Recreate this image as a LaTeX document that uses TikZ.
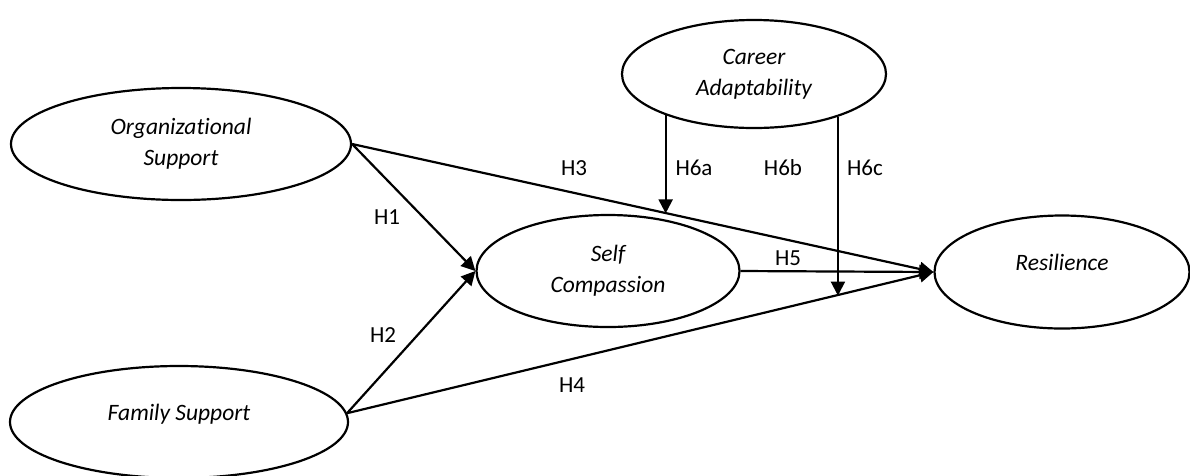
\documentclass[tikz,border=0pt]{standalone}
\usepackage{fontspec}
\setmainfont{Carlito}[Ligatures=NoCommon]
\usetikzlibrary{calc,arrows.meta,shapes.geometric}

\begin{document}
\begin{tikzpicture}[x=1pt, y=-1pt,
	latent/.style={ellipse, draw, line width=2.2pt, inner sep=0pt, align=center, font=\fontsize{23.5}{31}\selectfont\itshape},
	oneline/.style={text height=14pt, text depth=18pt},
	hyp/.style={line width=2.2pt, -{Triangle[length=14pt, width=14pt]}},
	hlabel/.style={font=\fontsize{23}{26}\selectfont}]
			%%%%% START %%%%%
			
			\useasboundingbox (0, 0) rectangle (1190, 475);
			
			\node[latent, minimum width=340pt, minimum height=112pt] (org) at (181, 144) {Organizational\\Support};
			\node[latent, oneline, minimum width=338pt, minimum height=112pt] (fam) at (179, 422) {Family Support};
			\node[latent, minimum width=263pt, minimum height=112pt] (self) at (608, 271) {Self\\Compassion};
			\node[latent, minimum width=264pt, minimum height=108pt] (ca) at (754, 74) {Career\\Adaptability};
			\node[latent, oneline, minimum width=255pt, minimum height=113pt] (res) at (1062, 272) {Resilience};
			
			\draw[hyp] (org.east) -- (self.west);
			\draw[hyp] (fam.3) -- (self.west);
			\draw[hyp] (org.east) -- (res.west);
			\draw[hyp] (fam.3) -- (res.west);
			\draw[hyp] (self.east) -- (res.west);
			
			\coordinate (m3) at ($(org.east)!0.542!(res.west)$);
			\coordinate (m4) at ($(fam.3)!0.833!(res.west)$);
			\draw[hyp] (ca.205) -- (ca.205 |- m3);
			\draw[hyp] (ca.333) -- (ca.333 |- m4);
			
			\node[hlabel] (h1) at (387, 217) {H1};
			\node[hlabel] (h2) at (383, 335) {H2};
			\node[hlabel] (h3) at (574, 168) {H3};
			\node[hlabel] (h4) at (572, 385) {H4};
			\node[hlabel] (h5) at (788, 258) {H5};
			\node[hlabel] (h6a) at (694, 168) {H6a};
			\node[hlabel] (h6b) at (783, 168) {H6b};
			\node[hlabel] (h6c) at (865, 168) {H6c};
			
			%%%%% END %%%%%
\end{tikzpicture}
\end{document}
